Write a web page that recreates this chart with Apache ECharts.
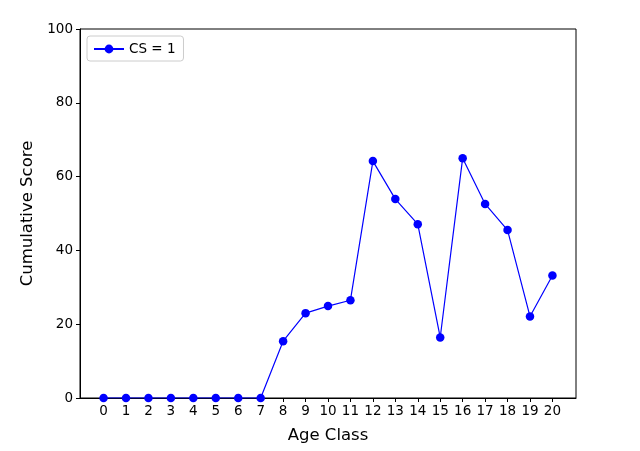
<!DOCTYPE html>
<html><head><meta charset="utf-8">
<script src="https://cdn.jsdelivr.net/npm/echarts@6/dist/echarts.min.js"></script>
<style>html,body{margin:0;padding:0;background:#fff}#c{width:640px;height:451px}</style>
</head><body><div id="c"></div>
<script>
var ageClasses = [0,1,2,3,4,5,6,7,8,9,10,11,12,13,14,15,16,17,18,19,20];
var csValues = [0,0,0,0,0,0,0,0,15.4,23.0,24.9,26.5,64.2,53.9,47.1,16.4,65.0,52.6,45.5,22.1,33.2];
var yTicks = [0,20,40,60,80,100];
var seriesName = 'CS = 1';

var chart = echarts.init(document.getElementById('c'), null, {renderer:'canvas'});
var font = 'DejaVu Sans';
chart.setOption({
  animation:false,
  grid:{left:80,right:64,top:29,bottom:53,show:true,borderColor:'#000',borderWidth:1,backgroundColor:'transparent'},
  legend:{left:87,top:36,orient:'vertical',data:[seriesName],itemWidth:30,itemHeight:11,itemGap:5,
    padding:[6,8,5,6],borderColor:'#cccccc',borderWidth:1,borderRadius:3,backgroundColor:'#fff',
    textStyle:{fontFamily:font,fontSize:13.5,color:'#000'}},
  xAxis:{type:'value',min:-1.05,max:21.05,name:'Age Class',nameLocation:'middle',nameGap:29,
    nameTextStyle:{fontFamily:font,fontSize:16.5,color:'#000'},
    axisLine:{show:true,onZero:false,lineStyle:{color:'#000',width:1}},
    axisTick:{show:true,length:4,lineStyle:{color:'#000'},customValues:ageClasses},
    axisLabel:{fontFamily:font,fontSize:13.5,color:'#000',margin:6,customValues:ageClasses},
    splitLine:{show:false}},
  yAxis:{type:'value',min:0,max:100,interval:20,name:'Cumulative Score',nameLocation:'middle',nameGap:42,
    nameTextStyle:{fontFamily:font,fontSize:16.5,color:'#000'},
    axisLine:{show:true,onZero:false,lineStyle:{color:'#000',width:1}},
    axisTick:{show:true,length:4,lineStyle:{color:'#000'},customValues:yTicks},
    axisLabel:{fontFamily:font,fontSize:13.5,color:'#000',margin:7,customValues:yTicks},
    splitLine:{show:false}},
  series:[{name:seriesName,type:'line',data:ageClasses.map(function(a,i){return [a,csValues[i]];}),
    symbol:'circle',symbolSize:8.5,showAllSymbol:true,
    lineStyle:{color:'#0000ff',width:1.2},itemStyle:{color:'#0000ff'}}]
});
</script></body></html>
